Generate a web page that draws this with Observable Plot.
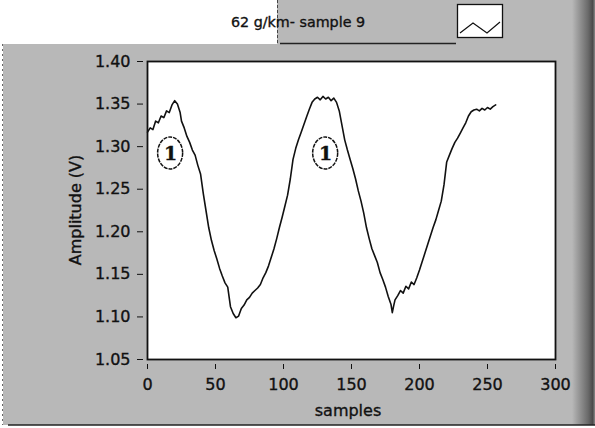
<!DOCTYPE html>
<html>
<head>
<meta charset="utf-8">
<script src="https://cdn.jsdelivr.net/npm/d3@7"></script>
<script src="https://cdn.jsdelivr.net/npm/@observablehq/plot@0.6"></script>
<style>
  html, body { margin: 0; padding: 0; background: #ffffff; }
  #chart { width: 595px; height: 428px; }
  #chart svg text { stroke: #111; stroke-width: 0.35px; paint-order: stroke; }
</style>
</head>
<body>
<div id="chart"></div>
<script>
// ---- data ----
const samples = [0,2,4,6,8,10,12,14,16,18,20,22,24,25,27,29,31,33,35,37,39,41,43,45,47,49,51,53,55,57,59,61,63,65,67,69,71,73,75,77,79,81,83,85,87,89,91,93,95,97,99,101,103,105,107,109,111,113,115,117,119,121,123,125,127,129,131,133,135,137,139,141,143,145,147,149,151,153,155,157,159,161,163,165,167,169,171,173,175,177,179,180,181,182,184,186,188,190,192,194,196,198,200,202,204,206,208,210,212,214,216,218,220,222,224,226,228,230,232,234,236,238,240,242,244,246,248,250,252,254,256];
const amplitude = [1.317,1.322,1.320,1.330,1.328,1.336,1.334,1.342,1.340,1.349,1.354,1.350,1.340,1.330,1.322,1.312,1.305,1.296,1.290,1.278,1.268,1.245,1.225,1.205,1.190,1.178,1.168,1.157,1.148,1.140,1.135,1.112,1.104,1.099,1.101,1.110,1.114,1.120,1.123,1.128,1.131,1.134,1.138,1.146,1.152,1.160,1.170,1.180,1.192,1.205,1.217,1.230,1.243,1.262,1.285,1.298,1.308,1.317,1.326,1.335,1.344,1.352,1.356,1.358,1.355,1.359,1.356,1.358,1.354,1.357,1.352,1.342,1.325,1.308,1.296,1.285,1.274,1.262,1.248,1.236,1.222,1.205,1.192,1.180,1.172,1.164,1.152,1.144,1.135,1.124,1.115,1.105,1.113,1.120,1.125,1.131,1.128,1.136,1.133,1.141,1.138,1.146,1.155,1.165,1.175,1.185,1.195,1.205,1.214,1.225,1.236,1.255,1.282,1.290,1.298,1.305,1.310,1.316,1.322,1.328,1.336,1.341,1.343,1.344,1.342,1.345,1.343,1.346,1.344,1.347,1.349];
const xTicks = [0,50,100,150,200,250,300];
const yTicks = [1.05,1.10,1.15,1.20,1.25,1.30,1.35,1.40];
const markerX = [17, 131];
const markerY = [1.292, 1.292];
const markerLabel = ["1", "1"];
const seriesName = "62 g/km- sample 9";
const xLabel = "samples";
const yLabel = "Amplitude (V)";

const data = samples.map((s, i) => ({s, v: amplitude[i]}));
const markers = markerX.map((x, i) => ({x, y: markerY[i], t: markerLabel[i]}));

const W = 595, H = 428;
const plot = Plot.plot({
  width: W, height: H,
  marginLeft: 147, marginRight: 40, marginTop: 61, marginBottom: 69,
  x: {domain: [0, 300]},
  y: {domain: [1.05, 1.40]},
  style: {background: "transparent", fontFamily: "DejaVu Sans", fontSize: "16px", color: "#111", overflow: "visible"},
  marks: [
    Plot.frame({fill: "white"}),
    Plot.line(data, {x: "s", y: "v", stroke: "#111", strokeWidth: 1.6}),
    Plot.frame({stroke: "#111", strokeWidth: 1.8}),
    Plot.axisX({ticks: xTicks, tickSize: 5, dy: 5, tickPadding: 9, label: null, tickFormat: d => String(d)}),
    Plot.axisY({ticks: yTicks, tickSize: 6, dx: -4, tickPadding: 7, label: null, tickFormat: d => d.toFixed(2)}),
    Plot.text(markers, {x: "x", y: "y", text: "t", fontFamily: "DejaVu Serif", fontWeight: "bold", fontSize: 19, fill: "#111"})
  ]
});
document.getElementById("chart").appendChild(plot);

const svg = d3.select(plot);
const sx = plot.scale("x"), sy = plot.scale("y");

// background layers inserted beneath the plot
const bg = svg.insert("g", ":first-child");
const defs = svg.insert("defs", ":first-child");
const grad = defs.append("linearGradient").attr("id", "shadow").attr("x1", 0).attr("x2", 1).attr("y1", 0).attr("y2", 0);
grad.append("stop").attr("offset", "0").attr("stop-color", "#b8b8b8");
grad.append("stop").attr("offset", "0.7").attr("stop-color", "#6a6a6a");
grad.append("stop").attr("offset", "0.9").attr("stop-color", "#4a4a4a");
grad.append("stop").attr("offset", "1").attr("stop-color", "#8a8a8a");
bg.append("rect").attr("x", 0).attr("y", 0).attr("width", W).attr("height", H).attr("fill", "#ffffff");
bg.append("rect").attr("x", 3).attr("y", 44).attr("width", W - 3).attr("height", 381).attr("fill", "#b8b8b8");
bg.append("rect").attr("x", 277).attr("y", 0).attr("width", W - 277).attr("height", 44).attr("fill", "#b8b8b8");
bg.append("rect").attr("x", 572).attr("y", 0).attr("width", 23).attr("height", 425).attr("fill", "url(#shadow)");
bg.append("line").attr("x1", 8).attr("x2", W).attr("y1", 425).attr("y2", 425).attr("stroke", "#222").attr("stroke-width", 1.5);
bg.append("line").attr("x1", 2.5).attr("x2", 2.5).attr("y1", 44).attr("y2", 425).attr("stroke", "#666").attr("stroke-dasharray", "2,3");
bg.append("line").attr("x1", 277.5).attr("x2", 277.5).attr("y1", 0).attr("y2", 43).attr("stroke", "#444").attr("stroke-dasharray", "3,2");
bg.append("line").attr("x1", 280).attr("x2", 456).attr("y1", 43.5).attr("y2", 43.5).attr("stroke", "#222").attr("stroke-width", 1.5);

// legend
const lg = svg.append("g");
lg.append("text").attr("x", 298).attr("y", 27).attr("font-family", "DejaVu Sans").attr("font-size", 14.3).attr("fill", "#111").text(seriesName);
lg.append("rect").attr("x", 457.5).attr("y", 4.5).attr("width", 45).attr("height", 33).attr("fill", "white").attr("stroke", "#111").attr("stroke-width", 1.3);
lg.append("polyline").attr("points", "460,33 473,23 487,33 500,22").attr("fill", "none").attr("stroke", "#111").attr("stroke-width", 1.2);

// marker ellipses positioned with the plot's scales
const ann = svg.insert("g", "g[aria-label='text']");
markers.forEach(m => {
  ann.append("ellipse").attr("cx", sx.apply(m.x)).attr("cy", sy.apply(m.y)).attr("rx", 12.5).attr("ry", 16)
    .attr("fill", "white").attr("stroke", "#111").attr("stroke-width", 1.5).attr("stroke-dasharray", "4,1");
});

// axis titles
svg.append("text").attr("x", 348).attr("y", 416).attr("text-anchor", "middle")
  .attr("font-family", "DejaVu Sans").attr("font-size", 16).attr("fill", "#111").text(xLabel);
svg.append("text").attr("transform", "translate(81,210) rotate(-90)").attr("text-anchor", "middle")
  .attr("font-family", "DejaVu Sans").attr("font-size", 16).attr("fill", "#111").text(yLabel);
</script>
</body>
</html>
